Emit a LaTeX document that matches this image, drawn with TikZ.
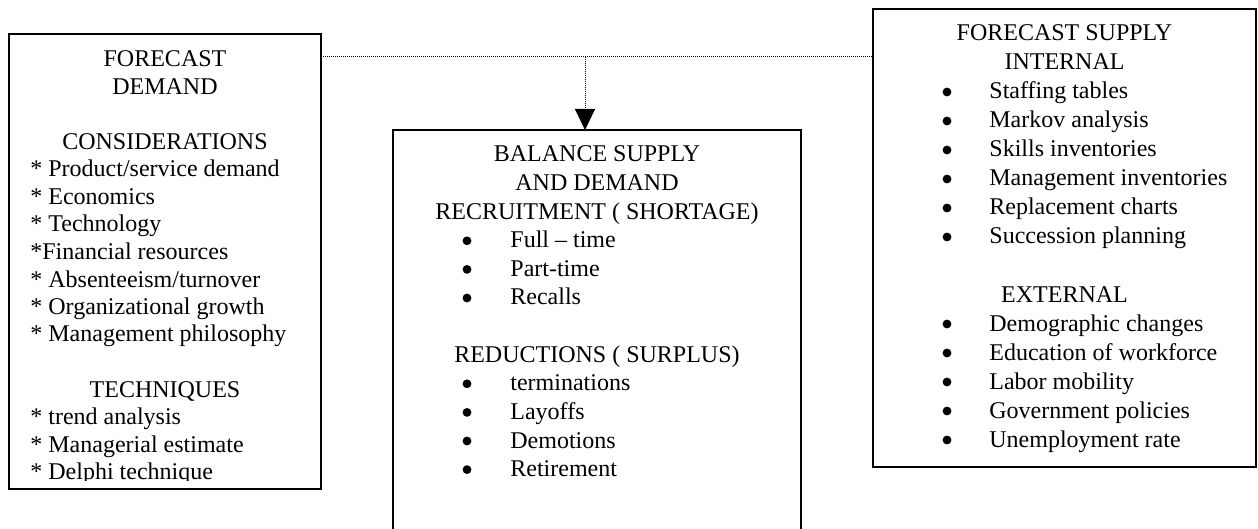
\documentclass[tikz,border=0pt]{standalone}
\usepackage{fontspec}
\setmainfont{Liberation Serif}
\usetikzlibrary{arrows.meta}

\begin{document}
\begin{tikzpicture}[x = 0.5pt, y = -0.5pt, font = \fontsize{12}{14}\selectfont]
	\tikzstyle{boxStyle} = [draw, line width = 1pt, inner sep = 0pt, outer sep = 0pt]
	\tikzstyle{headStyle} = [anchor = base, inner sep = 0pt]
	\tikzstyle{itemStyle} = [anchor = base west, inner sep = 0pt]
	\tikzstyle{bulletStyle} = [shape = circle, fill, inner sep = 0pt, minimum size = 4.4pt]
	\tikzstyle{linkStyle} = [line width = 0.5pt, dash pattern = on 0.5pt off 0.5pt]
	\useasboundingbox (0, 0) rectangle (1258, 529);
	\clip (0, 0) rectangle (1258, 529);
	% boxes
	\node[boxStyle, minimum width = 156pt, minimum height = 227.5pt] (demand) at (165, 261.5) {};
	\node[boxStyle, minimum width = 204pt, minimum height = 215pt] (balance) at (597, 345) {};
	\node[boxStyle, minimum width = 191.5pt, minimum height = 229pt] (supply) at (1064.5, 238) {};
	% forecast demand
	\begin{scope}
	\clip (9, 34) rectangle (321, 480.5);
	\node[headStyle] (d0) at (165, 67) {FORECAST};
	\node[headStyle] (d1) at (165, 94.5) {DEMAND};
	\node[headStyle] (d2) at (165, 149.5) {CONSIDERATIONS};
	\node[itemStyle] (d3) at (30, 177) {* Product/service demand};
	\node[itemStyle] (d4) at (30, 204.5) {* Economics};
	\node[itemStyle] (d5) at (30, 232) {* Technology};
	\node[itemStyle] (d6) at (30, 259.5) {*Financial resources};
	\node[itemStyle] (d7) at (30, 287) {* Absenteeism/turnover};
	\node[itemStyle] (d8) at (30, 314.5) {* Organizational growth};
	\node[itemStyle] (d9) at (30, 342) {* Management philosophy};
	\node[headStyle] (d10) at (165, 397) {TECHNIQUES};
	\node[itemStyle] (d11) at (30, 424.5) {* trend analysis};
	\node[itemStyle] (d12) at (30, 452) {* Managerial estimate};
	\node[itemStyle] (d13) at (30, 479.5) {* Delphi technique};
	\end{scope}
	% balance supply and demand
	\node[headStyle] (b0) at (597, 162) {BALANCE SUPPLY};
	\node[headStyle] (b1) at (597, 190.6) {AND DEMAND};
	\node[headStyle] (b2) at (597, 219.2) {RECRUITMENT ( SHORTAGE)};
	\foreach \y/\txt [count = \i] in {247.8/Full -- time, 276.4/Part-time, 305/Recalls}
	{
		\node[bulletStyle] (bb\i) at (467, {\y - 7}) {};
		\node[itemStyle] (bt\i) at (510, \y) {\txt};
	}
	\node[headStyle] (b3) at (597, 362.2) {REDUCTIONS ( SURPLUS)};
	\foreach \y/\txt [count = \i] in {390.8/terminations, 419.4/Layoffs, 448/Demotions, 476.6/Retirement}
	{
		\node[bulletStyle] (rb\i) at (467, {\y - 7}) {};
		\node[itemStyle] (rt\i) at (510, \y) {\txt};
	}
	% forecast supply
	\node[headStyle] (s0) at (1064.5, 41) {FORECAST SUPPLY};
	\node[headStyle] (s1) at (1064.5, 70) {INTERNAL};
	\foreach \y/\txt [count = \i] in {99/Staffing tables, 128/Markov analysis, 157/Skills inventories,
		186/Management inventories, 215/Replacement charts, 244/Succession planning}
	{
		\node[bulletStyle] (ib\i) at (947, {\y - 7}) {};
		\node[itemStyle] (it\i) at (989, \y) {\txt};
	}
	\node[headStyle] (s2) at (1064.5, 302) {EXTERNAL};
	\foreach \y/\txt [count = \i] in {331/Demographic changes, 360/Education of workforce, 389/Labor mobility,
		418/Government policies, 447/Unemployment rate}
	{
		\node[bulletStyle] (eb\i) at (947, {\y - 7}) {};
		\node[itemStyle] (et\i) at (989, \y) {\txt};
	}
	% dotted links
	\coordinate (junction) at (585, 57);
	\draw[linkStyle] (demand.east |- junction) -- (supply.west |- junction);
	\draw[linkStyle, -{Triangle[length = 10.5pt, width = 10pt]}] (junction) -- (junction |- balance.north);
\end{tikzpicture}
\end{document}
